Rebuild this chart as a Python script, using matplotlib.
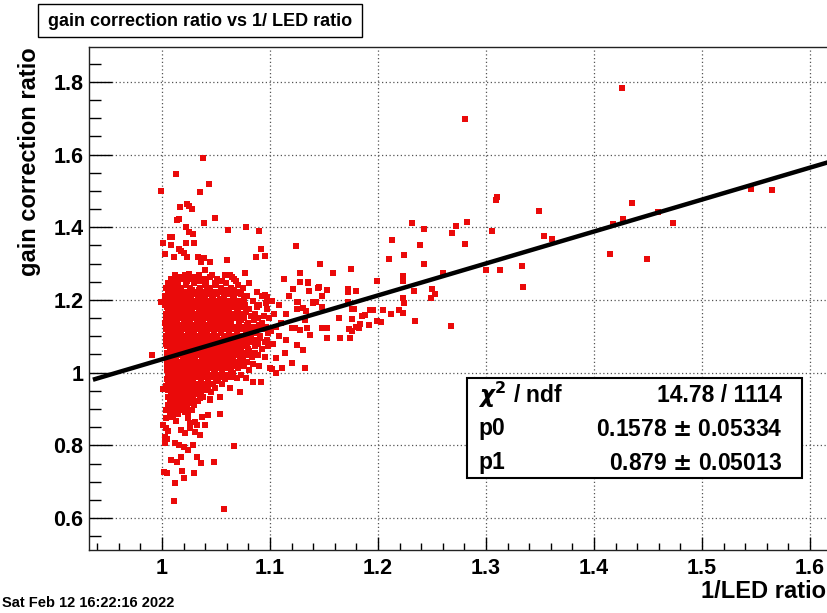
import matplotlib
matplotlib.use('Agg')
import matplotlib.pyplot as plt
import matplotlib.patches as patches
from matplotlib.ticker import MultipleLocator, FuncFormatter
import numpy as np

plt.rcParams['font.family'] = 'Liberation Sans'
plt.rcParams['font.weight'] = 'bold'
plt.rcParams['mathtext.fontset'] = 'dejavusans'

# fit result
p0 = 0.1578
p0_err = 0.05334
p1 = 0.879
p1_err = 0.05013
chi2 = 14.78
ndf = 1114

# dense core of the cloud: (y, [x values]) rows
core_rows = [
    (1.270, [1.012, 1.021, 1.034, 1.046, 1.058]),
    (1.258, [1.008, 1.017, 1.027, 1.039, 1.051, 1.067]),
    (1.246, [1.006, 1.014, 1.022, 1.030, 1.041, 1.049, 1.059, 1.081]),
    (1.234, [1.004, 1.011, 1.018, 1.026, 1.035, 1.044, 1.055, 1.064, 1.075]),
    (1.222, [1.006, 1.012, 1.019, 1.024, 1.031, 1.038, 1.047, 1.053, 1.061, 1.072, 1.088]),
    (1.210, [1.003, 1.009, 1.015, 1.021, 1.027, 1.034, 1.040, 1.046, 1.057, 1.066, 1.079, 1.093]),
    (1.198, [1.005, 1.011, 1.017, 1.023, 1.029, 1.036, 1.043, 1.050, 1.058, 1.063, 1.071, 1.084, 1.102]),
    (1.186, [1.003, 1.008, 1.014, 1.020, 1.026, 1.032, 1.038, 1.045, 1.052, 1.060, 1.068, 1.077, 1.090, 1.108]),
    (1.174, [1.006, 1.011, 1.016, 1.022, 1.028, 1.034, 1.041, 1.047, 1.054, 1.062, 1.070, 1.081, 1.097]),
    (1.162, [1.004, 1.009, 1.013, 1.019, 1.025, 1.031, 1.037, 1.043, 1.049, 1.056, 1.065, 1.073, 1.086, 1.104, 1.115]),
    (1.150, [1.006, 1.011, 1.017, 1.023, 1.029, 1.035, 1.041, 1.047, 1.053, 1.059, 1.068, 1.076, 1.089, 1.099]),
    (1.138, [1.003, 1.008, 1.014, 1.020, 1.026, 1.032, 1.038, 1.044, 1.050, 1.057, 1.063, 1.071, 1.080, 1.093, 1.110]),
    (1.126, [1.005, 1.010, 1.016, 1.022, 1.028, 1.034, 1.040, 1.046, 1.052, 1.060, 1.067, 1.075, 1.084, 1.096, 1.106]),
    (1.114, [1.007, 1.012, 1.018, 1.024, 1.030, 1.036, 1.042, 1.048, 1.055, 1.062, 1.069, 1.078, 1.087, 1.101]),
    (1.102, [1.004, 1.009, 1.015, 1.021, 1.027, 1.033, 1.039, 1.045, 1.051, 1.058, 1.065, 1.072, 1.082, 1.091, 1.108]),
    (1.090, [1.006, 1.011, 1.017, 1.023, 1.029, 1.035, 1.041, 1.047, 1.054, 1.061, 1.068, 1.076, 1.085, 1.097]),
    (1.078, [1.004, 1.009, 1.014, 1.020, 1.026, 1.032, 1.038, 1.044, 1.050, 1.057, 1.064, 1.071, 1.079, 1.089, 1.103]),
    (1.066, [1.007, 1.012, 1.018, 1.024, 1.030, 1.036, 1.042, 1.048, 1.055, 1.062, 1.070, 1.080, 1.093]),
    (1.054, [1.005, 1.010, 1.016, 1.022, 1.028, 1.034, 1.040, 1.046, 1.053, 1.059, 1.066, 1.075, 1.086]),
    (1.042, [1.007, 1.013, 1.019, 1.025, 1.031, 1.037, 1.043, 1.049, 1.056, 1.063, 1.072, 1.083, 1.095]),
    (1.030, [1.005, 1.010, 1.016, 1.022, 1.028, 1.034, 1.040, 1.047, 1.054, 1.061, 1.069, 1.079]),
    (1.018, [1.007, 1.013, 1.019, 1.025, 1.031, 1.037, 1.044, 1.051, 1.058, 1.066, 1.076, 1.090]),
    (1.006, [1.005, 1.011, 1.017, 1.023, 1.029, 1.035, 1.042, 1.049, 1.056, 1.064, 1.081]),
    (0.994, [1.007, 1.013, 1.019, 1.025, 1.031, 1.038, 1.045, 1.052, 1.060, 1.073]),
    (0.982, [1.005, 1.011, 1.017, 1.023, 1.029, 1.036, 1.043, 1.050, 1.058]),
    (0.970, [1.007, 1.013, 1.019, 1.025, 1.032, 1.039, 1.047, 1.056]),
    (0.958, [1.005, 1.011, 1.017, 1.024, 1.031, 1.038, 1.049]),
    (0.946, [1.008, 1.014, 1.021, 1.028, 1.036, 1.045]),
    (0.934, [1.006, 1.012, 1.019, 1.027, 1.038]),
    (0.922, [1.009, 1.016, 1.024, 1.033]),
    (0.910, [1.006, 1.013, 1.021, 1.030]),
    (0.898, [1.010, 1.018, 1.027]),
    (0.886, [1.007, 1.015, 1.024]),
]

# points lying between the rows above, filling the core
core_rows_b = [
    (1.264, [1.016, 1.030, 1.044]),
    (1.252, [1.011, 1.023, 1.035, 1.056]),
    (1.240, [1.008, 1.015, 1.022, 1.040, 1.050, 1.070]),
    (1.228, [1.009, 1.016, 1.028, 1.034, 1.042, 1.058, 1.067]),
    (1.216, [1.006, 1.012, 1.018, 1.030, 1.037, 1.043, 1.051, 1.062, 1.073]),
    (1.204, [1.008, 1.014, 1.020, 1.026, 1.033, 1.039, 1.047, 1.054, 1.067, 1.076]),
    (1.192, [1.006, 1.011, 1.017, 1.029, 1.035, 1.041, 1.048, 1.056, 1.064, 1.073, 1.096]),
    (1.180, [1.005, 1.009, 1.019, 1.025, 1.031, 1.037, 1.044, 1.050, 1.058, 1.066, 1.075, 1.088]),
    (1.168, [1.007, 1.014, 1.020, 1.026, 1.034, 1.040, 1.046, 1.052, 1.059, 1.069, 1.078]),
    (1.156, [1.005, 1.010, 1.016, 1.022, 1.028, 1.040, 1.046, 1.052, 1.061, 1.070, 1.082, 1.094]),
    (1.144, [1.004, 1.009, 1.014, 1.020, 1.026, 1.032, 1.038, 1.044, 1.056, 1.064, 1.073, 1.085]),
    (1.132, [1.006, 1.011, 1.017, 1.023, 1.029, 1.035, 1.041, 1.047, 1.054, 1.064, 1.071, 1.079, 1.090]),
    (1.120, [1.004, 1.009, 1.015, 1.021, 1.033, 1.039, 1.045, 1.051, 1.058, 1.065, 1.073, 1.082, 1.093]),
    (1.108, [1.006, 1.012, 1.018, 1.024, 1.030, 1.036, 1.042, 1.048, 1.055, 1.062, 1.069, 1.078, 1.087, 1.098]),
    (1.096, [1.004, 1.009, 1.014, 1.020, 1.026, 1.032, 1.038, 1.044, 1.050, 1.057, 1.064, 1.072, 1.080, 1.091]),
    (1.084, [1.007, 1.012, 1.018, 1.024, 1.030, 1.036, 1.042, 1.048, 1.054, 1.061, 1.068, 1.075, 1.084, 1.095]),
    (1.072, [1.005, 1.010, 1.016, 1.022, 1.028, 1.034, 1.041, 1.047, 1.053, 1.060, 1.067, 1.075, 1.086, 1.098]),
    (1.060, [1.008, 1.013, 1.019, 1.025, 1.031, 1.037, 1.043, 1.051, 1.058, 1.065, 1.073, 1.081]),
    (1.048, [1.005, 1.010, 1.016, 1.022, 1.028, 1.034, 1.040, 1.046, 1.053, 1.060, 1.068, 1.078, 1.089]),
    (1.036, [1.007, 1.013, 1.019, 1.025, 1.031, 1.037, 1.044, 1.051, 1.058, 1.066, 1.075]),
    (1.024, [1.005, 1.010, 1.016, 1.022, 1.028, 1.034, 1.041, 1.048, 1.055, 1.063, 1.072, 1.084]),
    (1.012, [1.008, 1.014, 1.020, 1.026, 1.032, 1.039, 1.046, 1.053, 1.060, 1.070]),
    (1.000, [1.006, 1.011, 1.016, 1.022, 1.028, 1.034, 1.041, 1.048, 1.056, 1.066]),
    (0.988, [1.008, 1.014, 1.020, 1.026, 1.033, 1.040, 1.047, 1.055, 1.064]),
    (0.976, [1.006, 1.011, 1.016, 1.022, 1.029, 1.036, 1.043, 1.052]),
    (0.964, [1.008, 1.014, 1.021, 1.028, 1.035, 1.043]),
    (0.952, [1.006, 1.012, 1.019, 1.027, 1.034, 1.041]),
    (0.940, [1.010, 1.017, 1.024, 1.032]),
    (0.928, [1.007, 1.014, 1.021, 1.029]),
    (0.916, [1.010, 1.018, 1.026]),
    (0.904, [1.007, 1.015, 1.023]),
    (0.892, [1.013, 1.021]),
]

# sparse points above the core
upper_pts = [
    (1.0377, 1.592), (1.0127, 1.548), (0.999, 1.500), (1.0435, 1.519), (1.035, 1.497),
    (1.023, 1.464), (1.025, 1.458), (1.028, 1.451), (1.0164, 1.456), (1.0488, 1.426),
    (1.014, 1.419), (1.016, 1.423), (1.0386, 1.412), (1.022, 1.400), (1.061, 1.393),
    (1.078, 1.400), (1.0895, 1.390), (1.025, 1.387), (1.029, 1.381), (1.007, 1.372),
    (1.0095, 1.372), (1.001, 1.356), (1.008, 1.351), (1.022, 1.358), (1.030, 1.356),
    (1.0155, 1.341), (1.018, 1.335), (1.020, 1.329), (1.003, 1.327), (1.0114, 1.317),
    (1.023, 1.319), (1.0336, 1.319), (1.0386, 1.315), (1.0364, 1.304), (1.0447, 1.305),
    (1.060, 1.309), (1.087, 1.317), (1.0957, 1.320), (1.092, 1.339), (1.124, 1.349),
    (1.040, 1.283), (1.077, 1.275), (1.025, 1.271), (1.020, 1.264), (1.0627, 1.268),
    (1.065, 1.264), (1.0685, 1.252), (1.113, 1.258), (1.128, 1.275), (1.128, 1.250),
    (1.1216, 1.231), (1.135, 1.250), (1.136, 1.226), (1.043, 1.224), (1.068, 1.220),
    (1.0957, 1.215), (1.0975, 1.209), (1.118, 1.210), (0.999, 1.195),
]

# sparse points below the core
lower_pts = [
    (0.9905, 1.049), (1.001, 0.954), (1.0035, 0.963), (1.0035, 0.897), (1.0035, 0.874),
    (1.009, 0.879), (1.001, 0.856), (1.0035, 0.847), (1.006, 0.840), (1.003, 0.824),
    (1.005, 0.817), (1.003, 0.806), (1.012, 0.807), (1.016, 0.800), (1.020, 0.796),
    (1.024, 0.787), (1.029, 0.800), (1.0105, 0.883), (1.013, 0.868), (1.018, 0.842),
    (1.021, 0.833), (1.026, 0.847), (1.0306, 0.838), (1.032, 0.856), (1.035, 0.829),
    (1.0398, 0.856), (1.043, 0.884), (1.0444, 0.927), (1.0537, 0.885), (1.0367, 0.879),
    (1.067, 0.798), (1.0083, 0.760), (1.0136, 0.753), (1.0176, 0.769), (1.032, 0.769),
    (1.036, 0.751), (1.0484, 0.753), (1.002, 0.728), (1.0044, 0.723), (1.0188, 0.730),
    (1.020, 0.709), (1.0296, 0.723), (1.0117, 0.695), (1.0114, 0.647), (1.0577, 0.624),
    (1.092, 0.975), (1.0845, 0.975), (1.078, 0.985), (1.069, 0.985), (1.072, 0.948),
    (1.063, 0.957), (1.054, 0.934), (1.044, 0.925), (1.100, 1.012), (1.106, 0.998),
    (1.0074, 0.934), (1.0105, 0.916), (1.0167, 0.925), (1.0244, 0.916), (1.029, 0.934),
    (1.035, 0.930), (1.0197, 0.902), (1.0275, 0.897), (1.0244, 0.874), (1.0306, 0.865),
    (1.026, 0.861),
]

# points to the right of the core
right_pts = [
    (1.2806, 1.698), (1.3105, 1.484), (1.3095, 1.474), (1.349, 1.444), (1.2318, 1.411),
    (1.243, 1.396), (1.2725, 1.404), (1.2688, 1.385), (1.2824, 1.415), (1.306, 1.390),
    (1.281, 1.353), (1.239, 1.352), (1.354, 1.376), (1.3615, 1.367), (1.213, 1.364),
    (1.224, 1.324), (1.2105, 1.312), (1.243, 1.298), (1.146, 1.298), (1.1747, 1.286),
    (1.1586, 1.275), (1.260, 1.275), (1.2997, 1.283), (1.313, 1.282), (1.333, 1.294),
    (1.334, 1.235), (1.223, 1.267), (1.223, 1.253), (1.1994, 1.253), (1.1355, 1.246),
    (1.1457, 1.236), (1.144, 1.234), (1.148, 1.211), (1.1525, 1.228), (1.1725, 1.230),
    (1.1725, 1.221), (1.180, 1.226), (1.233, 1.224), (1.250, 1.231), (1.2525, 1.217),
    (1.249, 1.205), (1.223, 1.205), (1.224, 1.193), (1.1247, 1.195), (1.1262, 1.195),
    (1.140, 1.195), (1.143, 1.195), (1.125, 1.176), (1.131, 1.179), (1.133, 1.170),
    (1.140, 1.191), (1.148, 1.182), (1.1725, 1.195), (1.176, 1.175), (1.178, 1.176),
    (1.193, 1.173), (1.195, 1.173), (1.2046, 1.173), (1.212, 1.162), (1.219, 1.173),
    (1.223, 1.165), (1.234, 1.143), (1.268, 1.1286), (1.1636, 1.1506), (1.176, 1.147),
    (1.185, 1.156), (1.188, 1.158), (1.199, 1.143), (1.203, 1.140), (1.183, 1.134),
    (1.182, 1.122), (1.1756, 1.116), (1.173, 1.121), (1.180, 1.127), (1.192, 1.131),
    (1.148, 1.122), (1.1525, 1.122), (1.134, 1.122), (1.123, 1.122), (1.120, 1.122),
    (1.137, 1.104), (1.1525, 1.096), (1.165, 1.095), (1.174, 1.095), (1.1247, 1.076),
    (1.131, 1.062), (1.114, 1.053), (1.120, 1.026), (1.132, 1.012), (1.111, 1.012),
    (1.1015, 1.009), (1.106, 1.040), (1.115, 1.090), (1.128, 1.1175), (1.132, 1.145),
    (1.4256, 1.783), (1.4355, 1.466), (1.427, 1.423), (1.4173, 1.408), (1.459, 1.441),
    (1.473, 1.411), (1.4148, 1.327), (1.449, 1.312), (1.5457, 1.505), (1.5645, 1.503),
]

xs = [x for y, row in core_rows + core_rows_b for x in row]
ys = [y for y, row in core_rows + core_rows_b for x in row]
for x, y in upper_pts + lower_pts + right_pts:
    xs.append(x)
    ys.append(y)

W, H = 828, 613
fig = plt.figure(figsize=(W / 100, H / 100), dpi=100)
ax = fig.add_axes([89 / W, 1 - 550 / H, 743 / W, (550 - 46.7) / H])

ax.plot(xs, ys, 's', ms=4.0, mew=0, color='#ea0a0a', zorder=2)

fx = np.array([0.938, 1.7])
ax.plot(fx, p0 + p1 * fx, '-', color='black', lw=3.2, zorder=3)

ax.set_xlim(0.9324, 1.6204)
ax.set_ylim(0.512, 1.897)

ax.xaxis.set_major_locator(MultipleLocator(0.1))
ax.xaxis.set_minor_locator(MultipleLocator(0.02))
ax.yaxis.set_major_locator(MultipleLocator(0.2))
ax.yaxis.set_minor_locator(MultipleLocator(0.05))
fmt = FuncFormatter(lambda v, pos: '%g' % round(v, 3))
ax.xaxis.set_major_formatter(fmt)
ax.yaxis.set_major_formatter(fmt)

ax.tick_params(axis='x', which='major', direction='in', length=9.4, width=1, labelsize=15.5, pad=6)
ax.tick_params(axis='x', which='minor', direction='in', length=5, width=1)
ax.tick_params(axis='y', which='major', direction='in', length=16.5, width=1, labelsize=15.5, pad=4)
ax.tick_params(axis='y', which='minor', direction='in', length=8.6, width=1)
for lab in ax.get_xticklabels() + ax.get_yticklabels():
    lab.set_fontweight('bold')

ax.grid(True, which='major', color='#555555', linestyle=(0, (1, 2)), lw=0.9)
ax.set_axisbelow(True)
for sp in ax.spines.values():
    sp.set_linewidth(1)
    sp.set_color('#222222')

# title box
fig.patches.append(patches.Rectangle((38 / W, 1 - 37 / H), 324 / W, 33 / H, transform=fig.transFigure,
                                     fc='white', ec='black', lw=1))
fig.text(200 / W, 1 - 21 / H, 'gain correction ratio vs 1/ LED ratio', ha='center', va='center',
         fontsize=13, fontweight='bold')

# axis titles
fig.text(30 / W, 1 - 47 / H, 'gain correction ratio', rotation=90, ha='center', va='top',
         fontsize=17, fontweight='bold')
fig.text(826 / W, 1 - 592 / H, '1/LED ratio', ha='right', va='center', fontsize=17, fontweight='bold')

# date stamp
fig.text(2 / W, 1 - 603 / H, 'Sat Feb 12 16:22:16 2022', ha='left', va='center',
         fontsize=10.5, fontweight='bold')

# fit statistics box
fig.patches.append(patches.Rectangle((467 / W, 1 - 478 / H), 335 / W, 100 / H, transform=fig.transFigure,
                                     fc='white', ec='black', lw=1.5, zorder=4))
rows = [(r'$\chi^{2}$ / ndf', '%.2f / %d' % (chi2, ndf)),
        ('p0', '%.4f $\\pm$ %.5f' % (p0, p0_err)),
        ('p1', '%.3f $\\pm$ %.5f' % (p1, p1_err))]
for i, (left, right) in enumerate(rows):
    yy = 1 - (395 + 34 * i) / H
    fig.text(478 / W, yy, left, ha='left', va='center', fontsize=16.5, fontweight='bold', zorder=5)
    fig.text(782 / W, yy, right, ha='right', va='center', fontsize=16.5, fontweight='bold', zorder=5)

plt.savefig('out.png', dpi=100)
